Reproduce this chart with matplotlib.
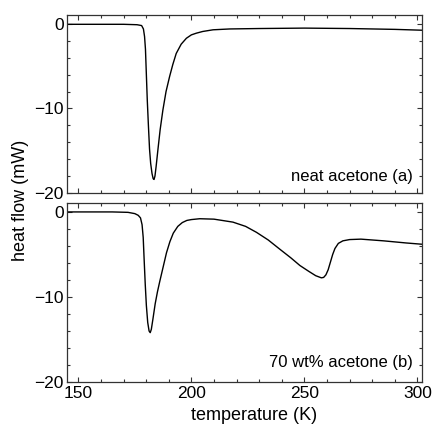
import matplotlib
matplotlib.use("Agg")
import matplotlib.pyplot as plt
from matplotlib.ticker import MultipleLocator

plt.rcParams['font.family'] = ['Liberation Sans', 'DejaVu Sans']

# neat acetone (a)
temp_a = [145, 160, 170, 176, 178, 178.8, 179.3, 179.7, 180.1, 180.5, 181, 181.5, 182,
          182.6, 183.1, 183.5, 183.9, 184.4, 185.2, 186.2, 187.4, 188.8, 190.4, 191.8,
          193.3, 195.5, 197.8, 200, 202.2, 205, 209.6, 217, 230, 250, 270, 290, 302]
flow_a = [-0.05, -0.05, -0.05, -0.1, -0.2, -0.6, -1.5, -3, -6, -9, -12, -14.8, -16.5,
          -17.7, -18.3, -18.4, -18.0, -16.9, -14.9, -12.5, -10.2, -8, -6.2, -4.8,
          -3.5, -2.4, -1.7, -1.3, -1.1, -0.9, -0.7, -0.6, -0.55, -0.5, -0.55, -0.65, -0.75]

# 70 wt% acetone (b)
temp_b = [145, 165, 172, 175, 176.5, 177.5, 178.2, 178.7, 179.1, 179.6, 180.1, 180.7,
          181.3, 181.8, 182.3, 183, 184, 185, 186, 187.5, 189, 190.5, 192, 194, 196, 198,
          200, 203.7, 210, 218.4, 224, 228.8, 234, 239.2, 244, 248, 252, 255, 257.5,
          258.5, 259.5, 260.5, 261.5, 262.5, 263.5, 265, 267, 270, 275, 285, 295, 302]
flow_b = [0, 0, -0.05, -0.2, -0.4, -0.7, -1.5, -3, -5.5, -8.5, -11, -13,
          -14, -14.2, -13.8, -12.6, -10.8, -9.4, -8.2, -6.5, -4.8, -3.5, -2.5, -1.7, -1.25, -1.0,
          -0.9, -0.8, -0.85, -1.2, -1.7, -2.4, -3.3, -4.4, -5.4, -6.3, -7.0, -7.5, -7.75,
          -7.7, -7.4, -6.8, -5.9, -5.0, -4.3, -3.7, -3.4, -3.25, -3.2, -3.4, -3.65, -3.8]

labels = ["neat acetone (a)", "70 wt% acetone (b)"]
x_ticks = [150, 200, 250, 300]
y_ticks = [-20, -10, 0]

fig = plt.figure(figsize=(4.33, 4.25), dpi=100)
L, R = 67/433, 422/433
ax1 = fig.add_axes([L, 1-193/425, R-L, (193-15)/425])
ax2 = fig.add_axes([L, 1-382/425, R-L, (382-203)/425])

spine_c = '#333333'
for ax, t, f, lab, ly in [(ax1, temp_a, flow_a, labels[0], 0.093),
                          (ax2, temp_b, flow_b, labels[1], 0.109)]:
    ax.plot(t, f, color='black', lw=1.0)
    ax.set_xlim(145, 302)
    ax.set_ylim(-20, 1.05)
    ax.set_xticks(x_ticks)
    ax.set_yticks(y_ticks)
    ax.xaxis.set_minor_locator(MultipleLocator(10))
    ax.yaxis.set_minor_locator(MultipleLocator(2))
    ax.tick_params(which='both', direction='in', top=True, right=True, color=spine_c,
                   labelsize=12.5, width=0.8)
    ax.tick_params(which='major', length=3.5)
    ax.tick_params(which='minor', length=2.5)
    ax.tick_params(axis='y', which='major', pad=2.5)
    ax.tick_params(axis='x', which='major', pad=3)
    for s in ax.spines.values():
        s.set_color(spine_c)
        s.set_linewidth(0.9)
    ax.text(0.975, ly, lab, transform=ax.transAxes, ha='right', va='center', fontsize=12)

ax1.set_xticklabels([])
fig.text(254/433, 1-416/425, 'temperature (K)', ha='center', va='center', fontsize=13)
fig.text(21/433, 1-200/425, 'heat flow (mW)', rotation=90, ha='center', va='center', fontsize=13)

fig.savefig('out.png', dpi=100)
